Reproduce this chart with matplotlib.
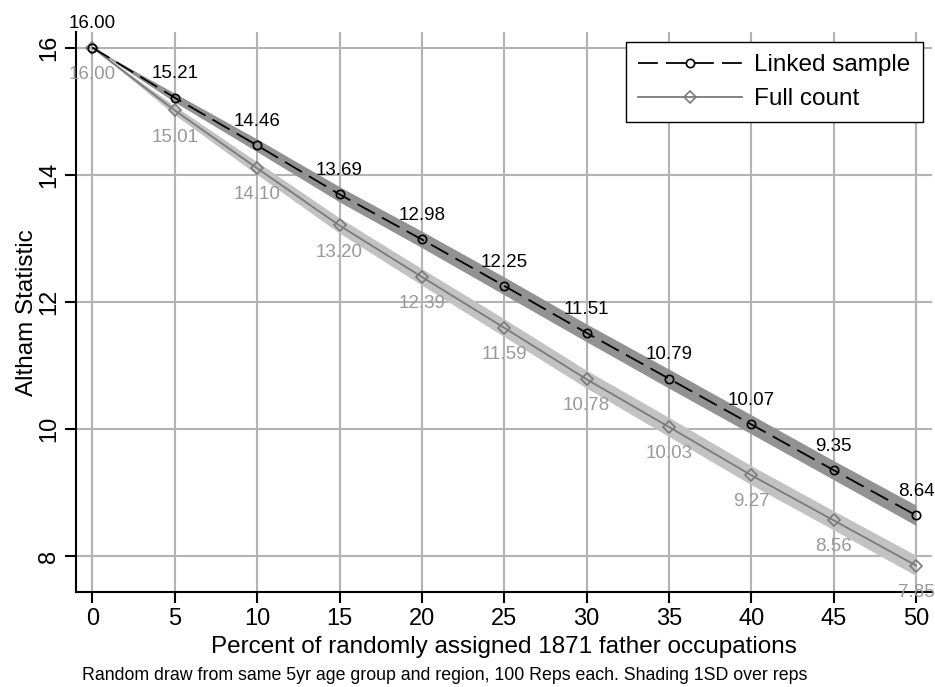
import matplotlib
matplotlib.use('Agg')
import matplotlib.pyplot as plt
import numpy as np

plt.rcParams['font.family'] = ['Liberation Sans', 'DejaVu Sans']

# data
pct = [0, 5, 10, 15, 20, 25, 30, 35, 40, 45, 50]
linked = [16.00, 15.21, 14.46, 13.69, 12.98, 12.25, 11.51, 10.79, 10.07, 9.35, 8.64]
full = [16.00, 15.01, 14.10, 13.20, 12.39, 11.59, 10.78, 10.03, 9.27, 8.56, 7.85]
linked_sd = [0.0, 0.07, 0.10, 0.12, 0.13, 0.14, 0.14, 0.15, 0.15, 0.15, 0.16]
full_sd = [0.0, 0.07, 0.10, 0.12, 0.13, 0.14, 0.14, 0.15, 0.15, 0.15, 0.16]

fig = plt.figure(figsize=(9.35, 6.87), dpi=100)
ax = fig.add_axes([0.0813, 0.138, 0.916, 0.815])

x = np.array(pct)
ln = np.array(linked)
fc = np.array(full)

# shading 1SD
ax.fill_between(x, ln - np.array(linked_sd), ln + np.array(linked_sd), color='#929292', lw=0, zorder=2)
ax.fill_between(x, fc - np.array(full_sd), fc + np.array(full_sd), color='#c2c2c2', lw=0, zorder=2)

ax.plot(x, fc, color='#7a7a7a', lw=1.3, marker='D', ms=6, mfc='none', mec='#7a7a7a', mew=1.2,
        label='Full count', zorder=3)
ax.plot(x, ln, color='black', lw=1.3, dashes=(11, 4.5), marker='o', ms=6, mfc='none', mec='black', mew=1.2,
        label='Linked sample', zorder=4)

for xi, v in zip(pct, linked):
    ax.annotate('%.2f' % v, (xi, v), xytext=(0, 11), textcoords='offset points',
                ha='center', va='bottom', fontsize=13.5, color='black', zorder=5)
for xi, v in zip(pct, full):
    ax.annotate('%.2f' % v, (xi, v), xytext=(0, -13), textcoords='offset points',
                ha='center', va='top', fontsize=13.5, color='#999999', zorder=5)

ax.set_xlim(-1, 51)
ax.set_ylim(7.43, 16.24)
ax.set_xticks(pct)
ax.set_yticks([8, 10, 12, 14, 16])
ax.grid(True, color='#b3b3b3', lw=1.5, zorder=0)
ax.set_axisbelow(True)
for s in ['top', 'right']:
    ax.spines[s].set_visible(False)
for s in ['left', 'bottom']:
    ax.spines[s].set_linewidth(1.5)
ax.tick_params(length=8, width=1.5, labelsize=17)
for lab in ax.get_yticklabels():
    lab.set_rotation(90)
    lab.set_va('center')

ax.set_xlabel('Percent of randomly assigned 1871 father occupations', fontsize=17.5, labelpad=4)
ax.set_ylabel('Altham Statistic', fontsize=17.5, labelpad=0)

handles, labels = ax.get_legend_handles_labels()
leg = ax.legend(handles[::-1], labels[::-1], loc='upper right', fontsize=17.5, fancybox=False,
                edgecolor='black', framealpha=1, handlelength=4.3, handletextpad=0.5,
                borderpad=0.5, labelspacing=0.5, borderaxespad=0.4)
leg.get_frame().set_linewidth(1.0)

fig.text(0.476, 0.004, 'Random draw from same 5yr age group and region, 100 Reps each. Shading 1SD over reps',
         ha='center', va='bottom', fontsize=12.8)

fig.savefig('out.png', dpi=100)
